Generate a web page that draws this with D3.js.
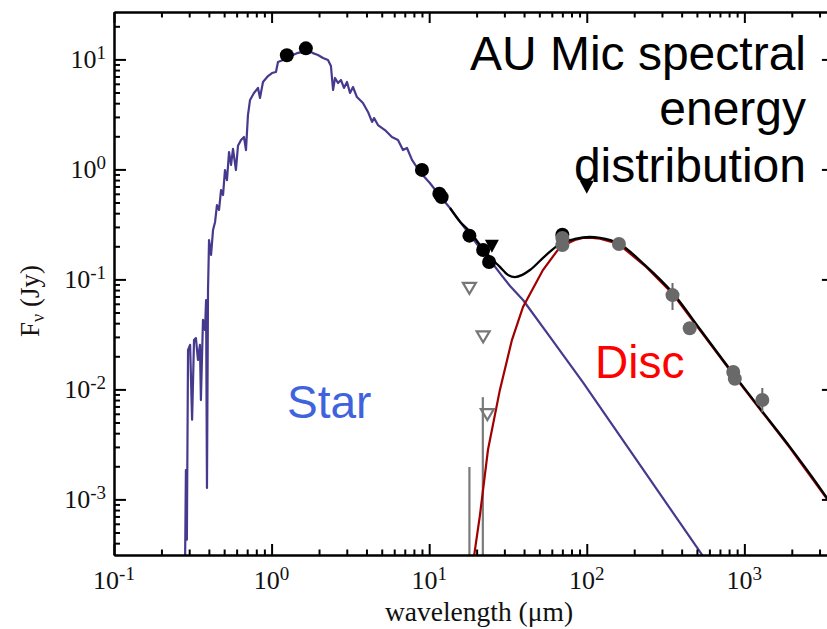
<!DOCTYPE html>
<html><head><meta charset="utf-8">
<script src="https://cdn.jsdelivr.net/npm/d3@7"></script>
<style>body{margin:0;background:#fff} svg{display:block}</style>
</head><body><svg id="c" width="827" height="629"></svg>
<script>
// ---------- DATA ----------
// stellar photosphere model [wavelength um, flux Jy]
const starSpectrum = [[0.282,0.0002],[0.286,0.00185],[0.290,0.00043],[0.295,0.0228],[0.304,0.0254],[0.313,0.0053],[0.322,0.0281],[0.331,0.0293],[0.341,0.0185],[0.351,0.0254],[0.356,0.0080],[0.367,0.0428],[0.378,0.0347],[0.384,0.065],[0.389,0.00127],[0.395,0.080],[0.401,0.228],[0.413,0.167],[0.425,0.281],[0.438,0.333],[0.450,0.474],[0.464,0.428],[0.478,0.65],[0.492,0.585],[0.506,0.987],[0.521,0.80],[0.537,1.44],[0.553,1.10],[0.569,1.54],[0.594,0.987],[0.612,1.64],[0.640,1.85],[0.668,1.97],[0.688,1.50],[0.708,3.12],[0.730,4.28],[0.773,4.95],[0.820,5.5],[0.844,4.46],[0.882,6.23],[0.949,7.06],[1.006,7.52],[1.066,7.68],[1.098,9.47],[1.181,9.87],[1.309,10.7],[1.450,11.4],[1.582,11.7],[1.700,12.2],[1.830,11.4],[1.970,10.96],[2.120,10.3],[2.280,9.87],[2.380,8.71],[2.455,5.27],[2.526,6.78],[2.640,6.1],[2.755,6.5],[2.880,5.5],[3.010,6.23],[3.145,4.95],[3.285,5.61],[3.480,4.55],[3.800,4.01],[4.090,3.33],[4.340,2.70],[4.470,2.93],[4.730,2.53],[5.240,2.28],[5.800,1.97],[6.340,1.85],[6.820,1.50],[7.230,1.565],[7.780,1.22],[8.740,0.947],[10.1,0.752],[11.7,0.573],[13.55,0.446],[15.7,0.333],[18.2,0.2535],[21.0,0.193],[24.3,0.150],[28.1,0.114],[32.6,0.087],[39.4,0.065],[58.4,0.030],[94.6,0.0116],[180,0.00305],[522,0.000335],[700,0.00018]];
// disc model
const discModel = [[18.5,0.0001],[19.2,0.000295],[21.0,0.00072],[23.6,0.00281],[28.1,0.0099],[33.5,0.0281],[39.4,0.0561],[52.7,0.1217],[67.6,0.197],[84.1,0.228],[94.6,0.238],[104.7,0.240],[121.3,0.235],[157.8,0.211],[234,0.133],[352,0.0737],[522,0.0346],[847,0.0137],[1300,0.0062],[1950,0.00293],[3342,0.00101],[3800,0.00077]];
// total (star + disc) model
const totalModel = [[13.55,0.446],[15.7,0.335],[18.2,0.27],[21.0,0.2055],[24.3,0.16],[28.1,0.13],[31.6,0.11],[35.0,0.105],[39.0,0.11],[43.6,0.1217],[54.3,0.163],[67.6,0.21],[84.1,0.233],[104.7,0.243],[121.3,0.238],[157.8,0.214],[234,0.135],[352,0.0752],[522,0.0354],[847,0.01397],[1300,0.0063],[1950,0.00299],[3342,0.00103],[3800,0.00078]];
// photometry (black filled circles)
const photWave = [1.25, 1.65, 9.0, 11.6, 12.0, 18.0, 22.0, 24.0, 70.0];
const photFlux = [10.9, 12.6, 0.99, 0.60, 0.56, 0.25, 0.185, 0.144, 0.255];
// upper limits (black filled triangles)
const ulWave = [25, 100];
const ulFlux = [0.20, 0.69];
// far-IR / sub-mm detections (grey circles) with error bars
const farWave = [70, 70, 160, 350, 450, 850, 870, 1300];
const farFlux = [0.238, 0.205, 0.21, 0.072, 0.036, 0.0144, 0.0125, 0.0080];
const farErrLo = [0.238, 0.205, 0.21, 0.0527, 0.033, 0.0144, 0.0125, 0.0062];
const farErrHi = [0.238, 0.205, 0.21, 0.0928, 0.039, 0.0144, 0.0125, 0.0103];
// grey open triangles (limits)
const openWave = [18, 22, 23.4];
const openFlux = [0.083, 0.030, 0.0059];
// grey vertical bars
const barWave = [18, 21.9];
const barTop = [0.00197, 0.0085];
// axis ticks
const xMajor = [0.1, 1, 10, 100, 1000];
const xExp = ["-1", "0", "1", "2", "3"];
const yMajor = [10, 1, 0.1, 0.01, 0.001];
const yExp = ["1", "0", "-1", "-2", "-3"];
const titleLines = ["AU Mic spectral", "energy", "distribution"];

// ---------- LAYOUT ----------
const L = 114, R = 833.9, T = 12, B = 555;
const x = d3.scaleLog().domain([0.1, 3700]).range([L, R]);
const y = d3.scaleLog().domain([3.122e-4, 26.98]).range([B, T]);
const svg = d3.select("#c");

function minors(lo, hi){const out=[];for(let e=lo;e<=hi;e++){for(let m=2;m<=9;m++){out.push(m*Math.pow(10,e));}}return out;}
const xMinor = minors(-1,3).filter(v=>v<3700);
const yMinor = minors(-4,1).filter(v=>v>3.122e-4 && v<26.98);

svg.append("defs").append("clipPath").attr("id","clip").append("rect")
  .attr("x",L).attr("y",T).attr("width",R-L).attr("height",B-T);

const plot = svg.append("g").attr("clip-path","url(#clip)");
const line = d3.line().x(d=>x(d[0])).y(d=>y(d[1]));

// grey bars
plot.selectAll(".bar").data(barWave).join("line")
  .attr("x1",d=>x(d)).attr("x2",d=>x(d))
  .attr("y1",(d,i)=>y(barTop[i])).attr("y2",B+5)
  .attr("stroke","#7a7a7a").attr("stroke-width",2.2);

plot.append("path").datum(starSpectrum).attr("d",line)
  .attr("fill","none").attr("stroke","#463a8e").attr("stroke-width",2.2).attr("stroke-linejoin","round");
plot.append("path").datum(discModel).attr("d",line)
  .attr("fill","none").attr("stroke","#a00000").attr("stroke-width",2.2);
plot.append("path").datum(totalModel).attr("d",d3.line().curve(d3.curveMonotoneX).x(d=>x(d[0])).y(d=>y(d[1])))
  .attr("fill","none").attr("stroke","#000").attr("stroke-width",2.3);

// open triangles
const tri = (cx,cy,w,h)=>`M${cx-w/2},${cy-h/2}L${cx+w/2},${cy-h/2}L${cx},${cy+h/2}Z`;
plot.selectAll(".ot").data(openWave).join("path")
  .attr("d",(d,i)=>tri(x(d),y(openFlux[i]),13,11))
  .attr("fill","none").attr("stroke","#777").attr("stroke-width",2.2);

// black circles
plot.selectAll(".pc").data(photWave).join("circle")
  .attr("cx",d=>x(d)).attr("cy",(d,i)=>y(photFlux[i])).attr("r",7).attr("fill","#000");
// black triangles
plot.selectAll(".ul").data(ulWave).join("path")
  .attr("d",(d,i)=>tri(x(d),y(ulFlux[i]),14,13)).attr("fill","#000");
// grey error bars and circles
plot.selectAll(".fe").data(farWave).join("line")
  .attr("x1",d=>x(d)).attr("x2",d=>x(d))
  .attr("y1",(d,i)=>y(farErrHi[i])).attr("y2",(d,i)=>y(farErrLo[i]))
  .attr("stroke","#6a6a6a").attr("stroke-width",2);
plot.selectAll(".fc").data(farWave).join("circle")
  .attr("cx",d=>x(d)).attr("cy",(d,i)=>y(farFlux[i])).attr("r",7).attr("fill","#696969");

// ---------- AXES ----------
function styleAxis(g){g.selectAll("text").remove();g.select(".domain").attr("stroke","#000").attr("stroke-width",2);g.selectAll(".tick line").attr("stroke","#000").attr("stroke-width",2);}
svg.append("g").attr("transform",`translate(0,${B})`).call(d3.axisBottom(x).tickValues(xMajor).tickSizeInner(-11).tickSizeOuter(0)).call(styleAxis);
svg.append("g").attr("transform",`translate(0,${B})`).call(d3.axisBottom(x).tickValues(xMinor).tickSizeInner(-5.5).tickSizeOuter(0)).call(styleAxis);
svg.append("g").attr("transform",`translate(0,${T})`).call(d3.axisTop(x).tickValues(xMajor).tickSizeInner(-11).tickSizeOuter(0)).call(styleAxis);
svg.append("g").attr("transform",`translate(0,${T})`).call(d3.axisTop(x).tickValues(xMinor).tickSizeInner(-5.5).tickSizeOuter(0)).call(styleAxis);
svg.append("g").attr("transform",`translate(${L},0)`).call(d3.axisLeft(y).tickValues(yMajor).tickSizeInner(-12).tickSizeOuter(0)).call(styleAxis);
svg.append("g").attr("transform",`translate(${L},0)`).call(d3.axisLeft(y).tickValues(yMinor).tickSizeInner(-6).tickSizeOuter(0)).call(styleAxis);
svg.append("g").attr("transform",`translate(${R},0)`).call(d3.axisRight(y).tickValues(yMajor).tickSizeInner(-12).tickSizeOuter(0)).call(styleAxis);
svg.append("g").attr("transform",`translate(${R},0)`).call(d3.axisRight(y).tickValues(yMinor).tickSizeInner(-6).tickSizeOuter(0)).call(styleAxis);

const serif = "'Liberation Serif','Times New Roman',serif";
const sans = "'Liberation Sans',Arial,sans-serif";
xMajor.forEach((v,i)=>{
  const t = svg.append("text").attr("x",x(v)).attr("y",589).attr("text-anchor","middle")
    .attr("font-family",serif).attr("font-size",26).attr("fill","#111");
  t.append("tspan").text("10");
  t.append("tspan").attr("dy",-9).attr("font-size",19).text(xExp[i]);
});
yMajor.forEach((v,i)=>{
  const t = svg.append("text").attr("x",106).attr("y",y(v)+9).attr("text-anchor","end")
    .attr("font-family",serif).attr("font-size",26).attr("fill","#111");
  t.append("tspan").text("10");
  t.append("tspan").attr("dy",-9).attr("font-size",19).text(yExp[i]);
});
svg.append("text").attr("x",479).attr("y",621).attr("text-anchor","middle")
  .attr("font-family",serif).attr("font-size",27.5).attr("fill","#111").text("wavelength (\u03bcm)");
const yl = svg.append("text").attr("transform","translate(39,301) rotate(-90)").attr("text-anchor","middle")
  .attr("font-family",serif).attr("font-size",27).attr("fill","#1a1010");
yl.append("tspan").text("F");
yl.append("tspan").attr("dy",5).attr("font-size",18).text("\u03bd");
yl.append("tspan").attr("dy",-5).text(" (Jy)");

// annotations
const titleY = [70, 125, 182];
titleLines.forEach((s,i)=>svg.append("text").attr("x",806).attr("y",titleY[i]).attr("text-anchor","end")
  .attr("font-family",sans).attr("font-size",48).attr("fill","#000").text(s));
svg.append("text").attr("x",287).attr("y",418).attr("font-family",sans).attr("font-size",46).attr("fill","#3f63dc").text("Star");
svg.append("text").attr("x",595).attr("y",378).attr("font-family",sans).attr("font-size",46).attr("fill","#ff0000").text("Disc");
</script></body></html>
